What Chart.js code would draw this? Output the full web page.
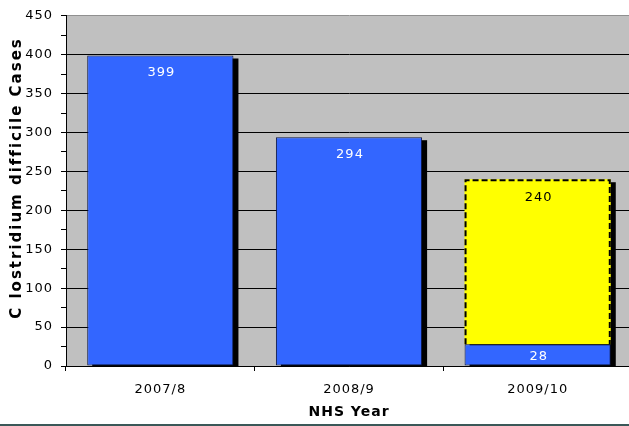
<!DOCTYPE html>
<html>
<head>
<meta charset="utf-8">
<script src="https://cdn.jsdelivr.net/npm/chart.js@4"></script>
<style>
    html, body { margin: 0; padding: 0; background: #fff; overflow: hidden; }
    #wrap { width: 629px; height: 426px; overflow: hidden; }
    #edge { width: 629px; height: 2px; background: #3a5858; }
    canvas { display: block; }
</style>
</head>
<body>
<div id="wrap">
    <canvas id="chart" width="632" height="424"></canvas>
    <div id="edge"></div>
</div>
<script>
// Данные графика
const years = ["2007/8", "2008/9", "2009/10"];
const reportedCases = [399, 294, 28];
const projectedCases = [0, 0, 212];
const yMax = 450;

const yTitleText = "C lostridium difficile Cases";
const xTitleText = "NHS Year";

// Серый фон области построения
const plotBackground = {
    id: "plotBackground",
    beforeUpdate(chart) {
        chart.ctx.letterSpacing = "1px";
    },
    beforeDraw(chart) {
        const { ctx, chartArea } = chart;
        ctx.letterSpacing = "1px";
        ctx.save();
        ctx.fillStyle = "#c0c0c0";
        ctx.fillRect(chartArea.left, chartArea.top, chartArea.right - chartArea.left, chartArea.bottom - chartArea.top);
        ctx.restore();
    },
};

// Чёрная тень под столбцами, подписи и пунктир
const barShadow = {
    id: "barShadow",
    beforeDatasetsDraw(chart) {
        const { ctx, chartArea } = chart;
        const base = chart.getDatasetMeta(0).data;
        const top = chart.getDatasetMeta(1).data;
        ctx.save();
        ctx.beginPath();
        ctx.rect(chartArea.left, chartArea.top, chartArea.right - chartArea.left, chartArea.bottom - chartArea.top);
        ctx.clip();
        ctx.fillStyle = "#000";
        base.forEach((bar, i) => {
            const upper = projectedCases[i] > 0 ? top[i] : bar;
            const w = bar.width;
            ctx.fillRect(bar.x - w / 2 + 5, upper.y + 3, w, bar.base - upper.y);
        });
        ctx.restore();
    },
    afterDatasetsDraw(chart) {
        const { ctx } = chart;
        const base = chart.getDatasetMeta(0).data;
        const top = chart.getDatasetMeta(1).data;
        ctx.save();
        ctx.font = "13px 'DejaVu Sans'";
        ctx.letterSpacing = "1px";
        ctx.textAlign = "center";
        ctx.textBaseline = "middle";

        // Пунктирная рамка прогноза
        top.forEach((bar, i) => {
            if (!projectedCases[i]) return;
            const l = bar.x - bar.width / 2 + 1;
            const r = bar.x + bar.width / 2 - 1;
            ctx.strokeStyle = "#000";
            ctx.lineWidth = 2;
            ctx.setLineDash([6, 3]);
            ctx.beginPath();
            ctx.moveTo(l, bar.base);
            ctx.lineTo(l, bar.y + 1);
            ctx.lineTo(r, bar.y + 1);
            ctx.lineTo(r, bar.base);
            ctx.stroke();
            ctx.setLineDash([]);
            ctx.fillStyle = "#000";
            ctx.fillText(String(reportedCases[i] + projectedCases[i]), bar.x + 1, bar.y + 18);
        });

        base.forEach((bar, i) => {
            ctx.fillStyle = "#fff";
            const y = Math.min(bar.y + 17, bar.base - 9);
            ctx.fillText(String(reportedCases[i]), bar.x + 1, y);
        });
        ctx.restore();
    },
    afterDraw(chart) {
        // Подпись оси Y
        const { ctx } = chart;
        ctx.save();
        ctx.font = "bold 15px 'DejaVu Sans'";
        ctx.letterSpacing = "2px";
        ctx.fillStyle = "#000";
        ctx.textAlign = "center";
        ctx.textBaseline = "middle";
        ctx.translate(17, 178);
        ctx.rotate(-Math.PI / 2);
        ctx.fillText(yTitleText, 0, 0);
        ctx.restore();
    },
};

new Chart(document.getElementById("chart"), {
    type: "bar",
    data: {
        labels: years,
        datasets: [
            {
                label: "Cases",
                data: reportedCases,
                backgroundColor: "#3366ff",
                borderColor: "#0a1440",
                borderWidth: 1,
                borderSkipped: false,
            },
            {
                label: "Projected",
                data: projectedCases,
                backgroundColor: "#ffff00",
                borderWidth: 0,
            },
        ],
    },
    options: {
        responsive: false,
        animation: false,
        events: [],
        barPercentage: 0.775,
        categoryPercentage: 1,
        layout: {
            padding: { top: 15, right: 0, left: 0, bottom: 0 },
        },
        plugins: {
            legend: { display: false },
            tooltip: { enabled: false },
        },
        scales: {
            x: {
                stacked: true,
                grid: {
                    offset: true,
                    drawOnChartArea: false,
                    color: "#000",
                    tickLength: 5,
                },
                border: { color: "#000" },
                ticks: {
                    color: "#000",
                    padding: 11,
                    font: { family: "'DejaVu Sans'", size: 13 },
                },
                title: {
                    display: true,
                    text: xTitleText,
                    color: "#000",
                    padding: { top: 0, bottom: 3 },
                    font: { family: "'DejaVu Sans'", size: 14, weight: "bold" },
                },
                afterFit(scale) {
                    scale.height = 58;
                },
            },
            y: {
                stacked: true,
                min: 0,
                max: yMax,
                grid: {
                    color: (c) => (c.tick.value === yMax ? "#909090" : c.tick.value % 50 === 0 ? "#000" : "transparent"),
                    tickColor: "#000",
                    tickLength: 5,
                },
                border: { color: "#000" },
                ticks: {
                    stepSize: 25,
                    autoSkip: false,
                    color: "#000",
                    padding: 8,
                    font: { family: "'DejaVu Sans'", size: 13 },
                    callback: (v) => (v % 50 === 0 ? v : ""),
                },
                afterFit(scale) {
                    scale.width = 66;
                },
            },
        },
    },
    plugins: [plotBackground, barShadow],
});
</script>
</body>
</html>
